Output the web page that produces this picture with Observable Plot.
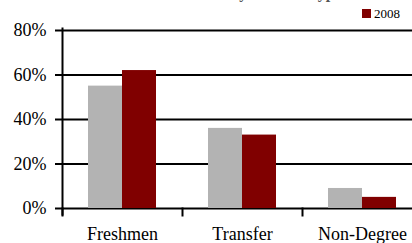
<!DOCTYPE html>
<html>
<head>
<meta charset="utf-8">
<script src="https://cdn.jsdelivr.net/npm/d3@7"></script>
<script src="https://cdn.jsdelivr.net/npm/@observablehq/plot@0.6"></script>
<style>
  html, body { margin: 0; padding: 0; background: #fff; overflow: hidden; }
  #wrap { position: relative; width: 412px; height: 243px; font-family: "Liberation Serif", "Times New Roman", serif; }
  #head { position: relative; height: 22px; }
  #title { position: absolute; left: 78px; width: 334px; top: -15px; text-align: center; font-weight: bold; font-size: 16px; line-height: 16px; color: #555; white-space: nowrap; }
  #legend { position: absolute; left: 362px; top: 7px; font-size: 13px; line-height: 13px; color: #000; display: flex; align-items: center; }
  #legend .sw { width: 9px; height: 9px; margin-right: 3px; }
  #chart svg { display: block; max-width: none; }
</style>
</head>
<body>
<div id="wrap">
  <div id="head">
    <div id="title">Enrollment by Student Type</div>
    <div id="legend"></div>
  </div>
  <div id="chart"></div>
</div>
<script>
const categories = ["Freshmen", "Transfer", "Non-Degree"];
const series = ["2007", "2008"];
const values2007 = [0.55, 0.36, 0.09];
const values2008 = [0.62, 0.33, 0.05];
const colors = ["#b3b3b3", "#800000"];
const yTicks = [0, 0.2, 0.4, 0.6, 0.8];
const legendSeries = ["2008"];

const data = [];
categories.forEach((c, i) => {
  data.push({category: c, series: series[0], value: values2007[i]});
  data.push({category: c, series: series[1], value: values2008[i]});
});

// legend (only the visible entry)
const legend = document.getElementById("legend");
legendSeries.forEach(s => {
  const sw = document.createElement("span");
  sw.className = "sw";
  sw.style.background = colors[series.indexOf(s)];
  const t = document.createElement("span");
  t.textContent = s;
  legend.appendChild(sw);
  legend.appendChild(t);
});

const W = 412, H = 221, mt = 8, mb = 35;
const innerH = H - mt - mb;

const chart = Plot.plot({
  width: W,
  height: H,
  marginLeft: 61,
  marginRight: -11,
  marginTop: mt,
  marginBottom: mb,
  style: {fontFamily: "'Liberation Serif', 'Times New Roman', serif", fontSize: "18px", color: "#000", background: "#fff", overflow: "visible"},
  fx: {domain: categories, paddingInner: 0, paddingOuter: 0, label: null},
  x: {domain: series, paddingInner: 0, paddingOuter: 0.74, axis: null},
  y: {domain: [0, 0.8], label: null},
  color: {domain: series, range: colors},
  marks: [
    Plot.gridY(yTicks, {stroke: "#000", strokeOpacity: 1, strokeWidth: 2}),
    Plot.barY(data, {fx: "category", x: "series", y: "value", fill: "series"}),
    Plot.frame({anchor: "left", insetTop: innerH, insetBottom: -7, stroke: "#000", strokeWidth: 2}),
    Plot.frame({anchor: "left", fx: [categories[0]], insetTop: -2, insetBottom: -6, stroke: "#000", strokeWidth: 2}),
    Plot.axisY(yTicks, {tickFormat: d3.format(".0%"), tickSize: 7, tickPadding: 9, strokeWidth: 2, fontSize: 18, label: null}),
    Plot.axisFx({anchor: "bottom", tickSize: 0, tickPadding: 19, fontSize: 18, label: null})
  ]
});
document.getElementById("chart").appendChild(chart);
</script>
</body>
</html>
